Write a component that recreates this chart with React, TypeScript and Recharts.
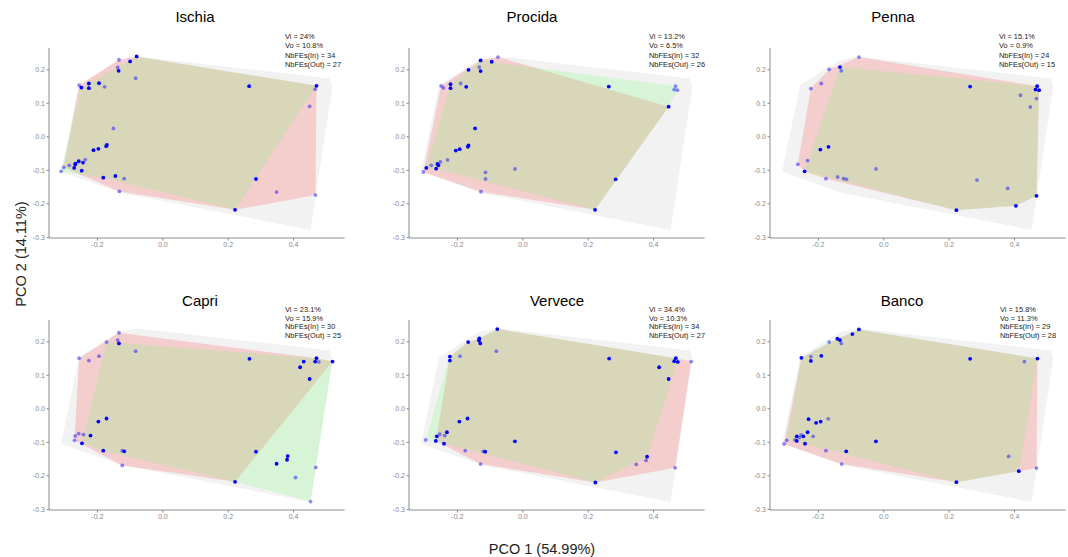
import React from 'react';
import { ScatterChart, Scatter, XAxis, YAxis } from 'recharts';

type P = [number, number];

// ---------- data ----------
const xTicks = [-0.2, 0, 0.2, 0.4];
const yTicks = [-0.3, -0.2, -0.1, 0, 0.1, 0.2];
const xDomain: [number, number] = [-0.348, 0.556];
const yDomain: [number, number] = [-0.302, 0.265];

const axisTitleX = 'PCO 1 (54.99%)';
const axisTitleY = 'PCO 2 (14.11%)';

// convex hull of the global species pool (grey)
const globalHull: P[] = [[-0.311, -0.104], [-0.256, 0.154], [-0.134, 0.229], [-0.078, 0.240], [0.512, 0.174], [0.518, 0.146], [0.452, -0.278], [-0.127, -0.168]];

// Ischia
const ischiaBoth: P[] = [[-0.080, 0.240], [-0.100, 0.225], [-0.135, 0.197], [-0.249, 0.147], [-0.226, 0.159], [-0.226, 0.145], [-0.195, 0.160], [0.264, 0.151], [0.470, 0.152], [-0.171, -0.024], [-0.173, -0.028], [-0.197, -0.036], [-0.212, -0.040], [-0.257, -0.073], [-0.244, -0.077], [-0.267, -0.080], [-0.268, -0.083], [-0.271, -0.093], [-0.248, -0.101], [-0.182, -0.122], [-0.145, -0.117], [0.285, -0.126], [0.221, -0.218]];
const ischiaSingle: P[] = [[-0.134, 0.230], [-0.138, 0.207], [-0.083, 0.175], [-0.256, 0.154], [-0.178, 0.149], [0.466, 0.142], [0.449, 0.091], [-0.151, 0.025], [-0.237, -0.068], [-0.286, -0.085], [-0.303, -0.091], [-0.311, -0.103], [-0.118, -0.125], [-0.133, -0.163], [0.348, -0.165], [0.467, -0.174]];
const ischiaRed: P[] = [[-0.303, -0.091], [-0.256, 0.154], [-0.134, 0.230], [-0.080, 0.240], [0.470, 0.152], [0.467, -0.174], [0.221, -0.218], [-0.133, -0.163]];
const ischiaGreen: P[] = [[-0.311, -0.103], [-0.249, 0.147], [-0.080, 0.240], [0.470, 0.152], [0.221, -0.218], [-0.182, -0.122]];

// Procida
const procidaBoth: P[] = [[-0.129, 0.228], [-0.095, 0.224], [-0.129, 0.196], [-0.166, 0.200], [-0.221, 0.157], [-0.221, 0.145], [-0.173, 0.149], [0.263, 0.150], [0.446, 0.090], [-0.146, 0.025], [-0.166, -0.026], [-0.168, -0.030], [-0.193, -0.037], [-0.205, -0.041], [-0.261, -0.081], [-0.258, -0.085], [-0.295, -0.093], [-0.265, -0.095], [0.284, -0.127], [0.221, -0.218]];
const procidaSingle: P[] = [[-0.076, 0.238], [-0.133, 0.208], [-0.250, 0.152], [-0.243, 0.146], [-0.190, 0.159], [0.467, 0.151], [0.463, 0.141], [0.473, 0.139], [-0.230, -0.069], [-0.252, -0.075], [-0.280, -0.085], [-0.304, -0.105], [-0.114, -0.106], [-0.114, -0.126], [-0.128, -0.164], [-0.024, -0.096]];
const procidaRed: P[] = [[-0.304, -0.105], [-0.250, 0.152], [-0.129, 0.228], [-0.076, 0.238], [0.446, 0.090], [0.221, -0.218], [-0.128, -0.164]];
const procidaGreen: P[] = [[-0.295, -0.093], [-0.221, 0.157], [-0.129, 0.228], [0.467, 0.151], [0.473, 0.139], [0.446, 0.090], [0.221, -0.218], [-0.265, -0.095]];

// Penna
const pennaBoth: P[] = [[-0.134, 0.208], [0.264, 0.150], [0.469, 0.151], [0.464, 0.141], [0.475, 0.139], [-0.169, -0.030], [-0.194, -0.038], [-0.242, -0.103], [0.467, -0.176], [0.404, -0.206], [0.222, -0.219]];
const pennaSingle: P[] = [[-0.076, 0.238], [-0.130, 0.197], [-0.167, 0.201], [-0.191, 0.159], [-0.223, 0.144], [0.418, 0.124], [0.467, 0.114], [0.448, 0.089], [-0.233, -0.071], [-0.263, -0.082], [-0.177, -0.125], [-0.141, -0.120], [-0.123, -0.125], [-0.114, -0.127], [-0.024, -0.096], [0.285, -0.129], [0.379, -0.154]];
const pennaRed: P[] = [[-0.263, -0.082], [-0.223, 0.144], [-0.167, 0.201], [-0.076, 0.238], [0.469, 0.151], [0.475, 0.139], [0.467, -0.176], [0.404, -0.206], [0.222, -0.219], [-0.177, -0.125], [-0.242, -0.103]];
const pennaGreen: P[] = [[-0.242, -0.103], [-0.134, 0.208], [0.469, 0.151], [0.475, 0.139], [0.467, -0.176], [0.404, -0.206], [0.222, -0.219]];

// Capri
const capriBoth: P[] = [[-0.134, 0.195], [0.265, 0.149], [0.470, 0.151], [0.466, 0.141], [0.431, 0.141], [0.420, 0.124], [0.449, 0.089], [0.519, 0.141], [-0.197, -0.038], [-0.172, -0.029], [-0.221, -0.080], [-0.247, -0.103], [-0.182, -0.125], [-0.118, -0.127], [0.285, -0.128], [0.382, -0.141], [0.380, -0.152], [0.348, -0.164], [0.221, -0.218]];
const capriSingle: P[] = [[-0.134, 0.227], [-0.138, 0.205], [-0.172, 0.199], [-0.083, 0.172], [-0.256, 0.151], [-0.226, 0.144], [-0.195, 0.157], [0.477, 0.140], [-0.257, -0.074], [-0.268, -0.081], [-0.270, -0.094], [-0.243, -0.077], [-0.124, -0.125], [-0.124, -0.169], [0.406, -0.205], [0.468, -0.175], [0.452, -0.277]];
const capriRed: P[] = [[-0.270, -0.094], [-0.256, 0.151], [-0.134, 0.227], [0.470, 0.151], [0.519, 0.141], [0.221, -0.218], [-0.124, -0.169]];
const capriGreen: P[] = [[-0.247, -0.103], [-0.172, 0.199], [0.470, 0.151], [0.519, 0.141], [0.452, -0.277], [0.221, -0.218], [-0.182, -0.125]];

// Vervece
const verveceBoth: P[] = [[-0.078, 0.238], [-0.133, 0.210], [-0.134, 0.204], [-0.130, 0.195], [-0.167, 0.199], [-0.223, 0.156], [-0.223, 0.144], [0.264, 0.150], [0.468, 0.151], [0.463, 0.142], [0.474, 0.140], [0.417, 0.124], [0.446, 0.089], [-0.194, -0.038], [-0.169, -0.029], [-0.232, -0.070], [-0.263, -0.082], [-0.266, -0.096], [-0.241, -0.104], [-0.115, -0.128], [-0.024, -0.097], [0.285, -0.130], [0.380, -0.143], [0.222, -0.220]];
const verveceSingle: P[] = [[-0.192, 0.157], [-0.081, 0.172], [-0.254, -0.076], [-0.239, -0.080], [-0.297, -0.093], [-0.176, -0.125], [-0.121, -0.127], [-0.129, -0.165], [0.377, -0.154], [0.347, -0.166], [0.466, -0.176], [0.515, 0.141]];
const verveceRed: P[] = [[-0.266, -0.096], [-0.223, 0.156], [-0.167, 0.199], [-0.133, 0.210], [-0.078, 0.238], [0.468, 0.151], [0.515, 0.141], [0.466, -0.176], [0.222, -0.220], [-0.129, -0.165]];
const verveceGreen: P[] = [[-0.297, -0.093], [-0.223, 0.156], [-0.167, 0.199], [-0.133, 0.210], [-0.078, 0.238], [0.468, 0.151], [0.474, 0.140], [0.380, -0.143], [0.222, -0.220], [-0.241, -0.104]];

// Banco
const bancoBoth: P[] = [[-0.076, 0.237], [-0.096, 0.223], [-0.142, 0.209], [-0.134, 0.205], [-0.252, 0.152], [-0.223, 0.143], [-0.191, 0.158], [0.264, 0.149], [0.470, 0.150], [-0.230, -0.031], [-0.193, -0.038], [-0.207, -0.042], [-0.233, -0.070], [-0.246, -0.082], [-0.266, -0.082], [-0.266, -0.096], [-0.241, -0.104], [-0.115, -0.127], [-0.024, -0.097], [0.222, -0.219], [0.413, -0.186]];
const bancoSingle: P[] = [[-0.130, 0.195], [-0.167, 0.199], [-0.223, 0.156], [0.430, 0.141], [-0.170, -0.030], [-0.253, -0.078], [-0.258, -0.086], [-0.272, -0.093], [-0.297, -0.094], [-0.305, -0.105], [-0.216, -0.082], [-0.177, -0.125], [-0.129, -0.165], [0.382, -0.142], [0.467, -0.177]];
const bancoRed: P[] = [[-0.305, -0.105], [-0.252, 0.152], [-0.142, 0.209], [-0.076, 0.237], [0.470, 0.150], [0.467, -0.177], [0.413, -0.186], [0.222, -0.219], [-0.129, -0.165]];
const bancoGreen: P[] = [[-0.297, -0.094], [-0.252, 0.152], [-0.167, 0.199], [-0.076, 0.237], [0.470, 0.150], [0.413, -0.186], [0.222, -0.219], [-0.241, -0.104]];

const siteNames = ['Ischia', 'Procida', 'Penna', 'Capri', 'Vervece', 'Banco'];
const viValues = ['24%', '13.2%', '15.1%', '23.1%', '34.4%', '15.8%'];
const voValues = ['10.8%', '6.5%', '0.9%', '15.9%', '10.3%', '11.3%'];
const nbIn = [34, 32, 24, 30, 34, 29];
const nbOut = [27, 26, 15, 25, 27, 28];
const bothSets = [ischiaBoth, procidaBoth, pennaBoth, capriBoth, verveceBoth, bancoBoth];
const singleSets = [ischiaSingle, procidaSingle, pennaSingle, capriSingle, verveceSingle, bancoSingle];
const redHulls = [ischiaRed, procidaRed, pennaRed, capriRed, verveceRed, bancoRed];
const greenHulls = [ischiaGreen, procidaGreen, pennaGreen, capriGreen, verveceGreen, bancoGreen];

// ---------- layout (not data) ----------
const W = 360;
const H = 271;
const MARGIN = { top: 48, right: 15.4, bottom: 13, left: 19 };
const colLeft = [0, 360, 720.5];
const rowTop = [0, 271.5];
const titlePos = [
  [195, 17], [532, 17], [893, 17],
  [200, 301], [557, 301], [902, 301],
];
const annLeft = [285, 649, 999, 285, 649, 1000];
const annTop = [37.3, 37.3, 37.3, 310, 310, 310];
const annStep = [9.1, 9.1, 9.1, 8.6, 8.6, 8.6];

const FONT = '"Liberation Sans", Arial, Helvetica, sans-serif';

const toObj = (arr: P[]) => arr.map(([x, y]) => ({ x, y }));

function hullLine(fill: string, opacity: number) {
  return (props: any) => {
    const pts = (props && props.points) || [];
    if (!pts.length) return <g />;
    const d = pts.map((p: any, i: number) => `${i === 0 ? 'M' : 'L'}${p.x},${p.y}`).join(' ') + ' Z';
    return <path d={d} fill={fill} fillOpacity={opacity} stroke="none" />;
  };
}
const noShape = () => <g />;
function dot(op: number) {
  return (props: any) => (
    <circle cx={props.cx} cy={props.cy} r={1.9} fill="#0000FF" fillOpacity={op} stroke="none" />
  );
}

const axisColor = '#8a8a8a';

function Panel({ i }: { i: number }) {
  const col = i % 3;
  const row = Math.floor(i / 3);
  return (
    <div style={{ position: 'absolute', left: colLeft[col], top: rowTop[row], width: W, height: H }}>
      <ScatterChart width={W} height={H} margin={MARGIN}>
        <XAxis
          type="number"
          dataKey="x"
          domain={xDomain}
          allowDataOverflow
          ticks={xTicks}
          interval={0}
          tickFormatter={(v: number) => v.toFixed(1)}
          height={20}
          tickSize={2.5}
          tickMargin={2}
          stroke={axisColor}
          tick={{ fontSize: 7, fill: '#8a8a8a', fontFamily: FONT }}
        />
        <YAxis
          type="number"
          dataKey="y"
          domain={yDomain}
          allowDataOverflow
          ticks={yTicks}
          interval={0}
          tickFormatter={(v: number) => v.toFixed(1)}
          width={30}
          tickSize={2.5}
          tickMargin={1.5}
          stroke={axisColor}
          tick={{ fontSize: 7, fill: '#8a8a8a', fontFamily: FONT }}
        />
        <Scatter data={toObj(globalHull)} line={hullLine('#F2F2F2', 1)} lineType="joint" shape={noShape} isAnimationActive={false} />
        <Scatter data={toObj(redHulls[i])} line={hullLine('#FF3B3B', 0.2)} lineType="joint" shape={noShape} isAnimationActive={false} />
        <Scatter data={toObj(greenHulls[i])} line={hullLine('#70FF70', 0.2)} lineType="joint" shape={noShape} isAnimationActive={false} />
        <Scatter data={toObj(singleSets[i])} shape={dot(0.45)} isAnimationActive={false} />
        <Scatter data={toObj(bothSets[i])} shape={dot(1)} isAnimationActive={false} />
      </ScatterChart>
    </div>
  );
}

function Annotation({ i }: { i: number }) {
  const lines = [
    `Vi = ${viValues[i]}`,
    `Vo = ${voValues[i]}`,
    `NbFEs(In) = ${nbIn[i]}`,
    `NbFEs(Out) = ${nbOut[i]}`,
  ];
  return (
    <>
      {lines.map((t, k) => (
        <div
          key={k}
          style={{
            position: 'absolute',
            left: annLeft[i],
            top: annTop[i] + k * annStep[i] - 5,
            height: 10,
            lineHeight: '10px',
            fontSize: 7.4,
            color: '#222',
            whiteSpace: 'nowrap',
            fontFamily: FONT,
          }}
        >
          {t}
        </div>
      ))}
    </>
  );
}

export default function App() {
  return (
    <div
      style={{
        position: 'absolute',
        left: 0,
        top: 0,
        width: 1068,
        height: 557,
        overflow: 'hidden',
        background: '#fff',
        fontFamily: FONT,
      }}
    >
      {siteNames.map((_, i) => (
        <Panel key={'p' + i} i={i} />
      ))}
      {siteNames.map((name, i) => (
        <div
          key={'t' + i}
          style={{
            position: 'absolute',
            left: titlePos[i][0] - 60,
            top: titlePos[i][1] - 10,
            width: 120,
            height: 20,
            lineHeight: '20px',
            textAlign: 'center',
            fontSize: 15,
            color: '#000',
          }}
        >
          {name}
        </div>
      ))}
      {siteNames.map((_, i) => (
        <Annotation key={'a' + i} i={i} />
      ))}
      <div
        style={{
          position: 'absolute',
          left: 442,
          top: 540,
          width: 200,
          height: 18,
          lineHeight: '18px',
          textAlign: 'center',
          fontSize: 14.5,
          color: '#222',
        }}
      >
        {axisTitleX}
      </div>
      <div
        style={{
          position: 'absolute',
          left: 21,
          top: 254,
          transform: 'translate(-50%, -50%) rotate(-90deg)',
          whiteSpace: 'nowrap',
          fontSize: 14.5,
          lineHeight: '18px',
          color: '#222',
        }}
      >
        {axisTitleY}
      </div>
    </div>
  );
}
